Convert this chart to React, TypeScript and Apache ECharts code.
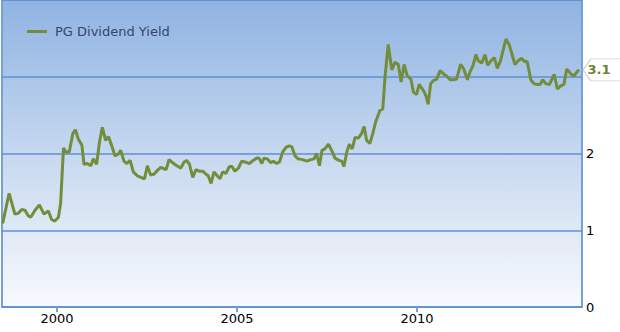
import React, { useEffect, useRef } from "react";
import * as echarts from "echarts";

const seriesName = "PG Dividend Yield";
const xTickYears = [2000, 2005, 2010];
const yTicks = [0, 1, 2, 3, 4];

// decimal year of each observation
const dates = [
  1998.49, 1998.67, 1998.83, 1998.92, 1999.02, 1999.11, 1999.2, 1999.27, 1999.39, 1999.51,
  1999.64, 1999.76, 1999.85, 1999.94, 2000.04, 2000.1, 2000.18, 2000.25, 2000.34, 2000.44,
  2000.51, 2000.59, 2000.69, 2000.75, 2000.84, 2000.94, 2001.01, 2001.1, 2001.18, 2001.26,
  2001.35, 2001.43, 2001.52, 2001.61, 2001.7, 2001.77, 2001.86, 2001.94, 2002.03, 2002.12,
  2002.23, 2002.33, 2002.43, 2002.51, 2002.6, 2002.69, 2002.79, 2002.88, 2003.03, 2003.11,
  2003.21, 2003.33, 2003.44, 2003.53, 2003.6, 2003.68, 2003.77, 2003.86, 2003.95, 2004.05,
  2004.14, 2004.2, 2004.28, 2004.36, 2004.45, 2004.53, 2004.6, 2004.69, 2004.79, 2004.86,
  2004.94, 2005.04, 2005.13, 2005.22, 2005.34, 2005.45, 2005.55, 2005.61, 2005.69, 2005.75,
  2005.84, 2005.94, 2006.01, 2006.1, 2006.18, 2006.27, 2006.36, 2006.45, 2006.52, 2006.61,
  2006.7, 2006.82, 2006.94, 2007.05, 2007.14, 2007.21, 2007.29, 2007.36, 2007.44, 2007.54,
  2007.63, 2007.72, 2007.83, 2007.91, 2007.97, 2008.05, 2008.12, 2008.2, 2008.28, 2008.37,
  2008.46, 2008.53, 2008.6, 2008.69, 2008.77, 2008.85, 2008.97, 2009.05, 2009.11, 2009.2,
  2009.3, 2009.39, 2009.48, 2009.56, 2009.64, 2009.73, 2009.83, 2009.9, 2009.99, 2010.06,
  2010.18, 2010.25, 2010.31, 2010.38, 2010.45, 2010.55, 2010.64, 2010.73, 2010.82, 2010.92,
  2011.01, 2011.1, 2011.21, 2011.29, 2011.4, 2011.47, 2011.55, 2011.64, 2011.7, 2011.8,
  2011.89, 2011.96, 2012.06, 2012.15, 2012.23, 2012.32, 2012.4, 2012.47, 2012.56, 2012.64,
  2012.72, 2012.81, 2012.91, 2012.98, 2013.06, 2013.16, 2013.25, 2013.34, 2013.42, 2013.49,
  2013.58, 2013.68, 2013.81, 2013.9, 2013.99, 2014.08, 2014.16, 2014.27, 2014.36, 2014.44,
  2014.5,
];

const yields = [
  1.09, 1.48, 1.21, 1.22, 1.27, 1.26, 1.19, 1.17, 1.26, 1.33,
  1.21, 1.25, 1.14, 1.12, 1.17, 1.35, 2.07, 2.02, 2.02, 2.26,
  2.31, 2.19, 2.11, 1.86, 1.87, 1.84, 1.93, 1.86, 2.15, 2.34,
  2.17, 2.22, 2.1, 1.97, 1.99, 2.04, 1.9, 1.87, 1.91, 1.76,
  1.71, 1.69, 1.67, 1.84, 1.72, 1.73, 1.78, 1.82, 1.79, 1.92,
  1.88, 1.84, 1.81, 1.89, 1.91, 1.86, 1.69, 1.79, 1.77, 1.77,
  1.73, 1.71, 1.61, 1.76, 1.71, 1.67, 1.76, 1.74, 1.83, 1.83,
  1.77, 1.81, 1.9, 1.89, 1.87, 1.91, 1.94, 1.94, 1.87, 1.94,
  1.93, 1.88, 1.9, 1.87, 1.89, 2.02, 2.08, 2.1, 2.09, 1.97,
  1.93, 1.92, 1.9, 1.92, 1.93, 2.0, 1.84, 2.04, 2.06, 2.12,
  2.04, 1.94, 1.91, 1.9, 1.83, 2.02, 2.12, 2.06, 2.21, 2.2,
  2.26, 2.35, 2.17, 2.13, 2.26, 2.41, 2.56, 2.58, 2.99, 3.42,
  3.09, 3.19, 3.16, 2.93, 3.16, 3.01, 2.97, 2.8, 2.77, 2.9,
  2.82, 2.75, 2.64, 2.91, 2.95, 2.97, 3.08, 3.04, 3.01, 2.96,
  2.96, 2.97, 3.16, 3.11, 2.96, 3.06, 3.14, 3.29, 3.21, 3.18,
  3.29, 3.15, 3.21, 3.25, 3.11, 3.21, 3.36, 3.49, 3.42, 3.29,
  3.16, 3.21, 3.24, 3.2, 3.2, 2.96, 2.91, 2.9, 2.9, 2.96,
  2.91, 2.9, 3.03, 2.84, 2.88, 2.9, 3.1, 3.04, 3.01, 3.06,
  3.09,
];

const xMin = 1998.472;
const xMax = 2014.583;

export default function App() {
  const ref = useRef<HTMLDivElement>(null);

  useEffect(() => {
    document.body.style.margin = "0";
    if (!ref.current) return;
    const chart = echarts.init(ref.current, null, { renderer: "svg" });
    const data = dates.map((d, i) => [d, yields[i]]);
    const lastVal = yields[yields.length - 1];
    const font = "DejaVu Sans";

    chart.setOption({
      animation: false,
      textStyle: { fontFamily: font },
      grid: {
        left: 2,
        right: 38,
        top: 0,
        bottom: 25,
        show: true,
        borderColor: "#74a0e0",
        borderWidth: 2,
        backgroundColor: {
          type: "linear",
          x: 0,
          y: 0,
          x2: 0,
          y2: 1,
          colorStops: [
            { offset: 0, color: "#8fb3e2" },
            { offset: 0.5, color: "#c6d8ef" },
            { offset: 1, color: "#f8fafd" },
          ],
        },
      },
      legend: {
        left: 22,
        top: 20,
        icon: "rect",
        itemWidth: 20,
        itemHeight: 3,
        textStyle: {
          fontFamily: font,
          fontSize: 13,
          color: "#34466a",
          padding: [0, 0, 0, 3],
        },
        data: [seriesName],
      },
      xAxis: {
        type: "value",
        min: xMin,
        max: xMax,
        axisLine: { show: false },
        splitLine: { show: false },
        axisTick: {
          show: true,
          length: 5,
          customValues: xTickYears,
          lineStyle: { color: "#74a0e0", width: 2 },
        },
        axisLabel: {
          customValues: xTickYears,
          color: "#000",
          fontSize: 13,
          fontFamily: font,
          margin: 5,
          formatter: (v: number) => String(v),
        },
      },
      yAxis: {
        type: "value",
        position: "right",
        min: yTicks[0],
        max: yTicks[yTicks.length - 1],
        interval: 1,
        axisLine: { show: false },
        axisTick: { show: false },
        splitLine: { show: true, lineStyle: { color: "#5f8fd6", width: 1.5 } },
        axisLabel: {
          color: "#000",
          fontSize: 13,
          fontFamily: font,
          margin: 4,
          showMaxLabel: false,
          // the last-value tag covers the tick label next to it
          formatter: (v: number) => (Math.abs(v - lastVal) < 0.25 ? "" : String(v)),
        },
      },
      series: [
        {
          name: seriesName,
          type: "line",
          data,
          symbol: "none",
          lineStyle: { color: "#738d3b", width: 3 },
          itemStyle: { color: "#738d3b" },
          markPoint: {
            z: 10,
            symbol: "path://M0,11 L8,0 L44,0 L44,22 L8,22 Z",
            symbolSize: [44, 22],
            symbolOffset: [23, 0],
            itemStyle: { color: "#ffffff", borderColor: "#cfcfcf", borderWidth: 1 },
            label: {
              show: true,
              position: "inside",
              offset: [-6, 0],
              color: "#6a8434",
              fontWeight: "bold",
              fontSize: 13,
              fontFamily: font,
              formatter: () => lastVal.toFixed(1),
            },
            data: [{ coord: [xMax, lastVal] }],
          },
        },
      ],
    });

    return () => chart.dispose();
  }, []);

  return <div ref={ref} style={{ width: 620, height: 332 }} />;
}
